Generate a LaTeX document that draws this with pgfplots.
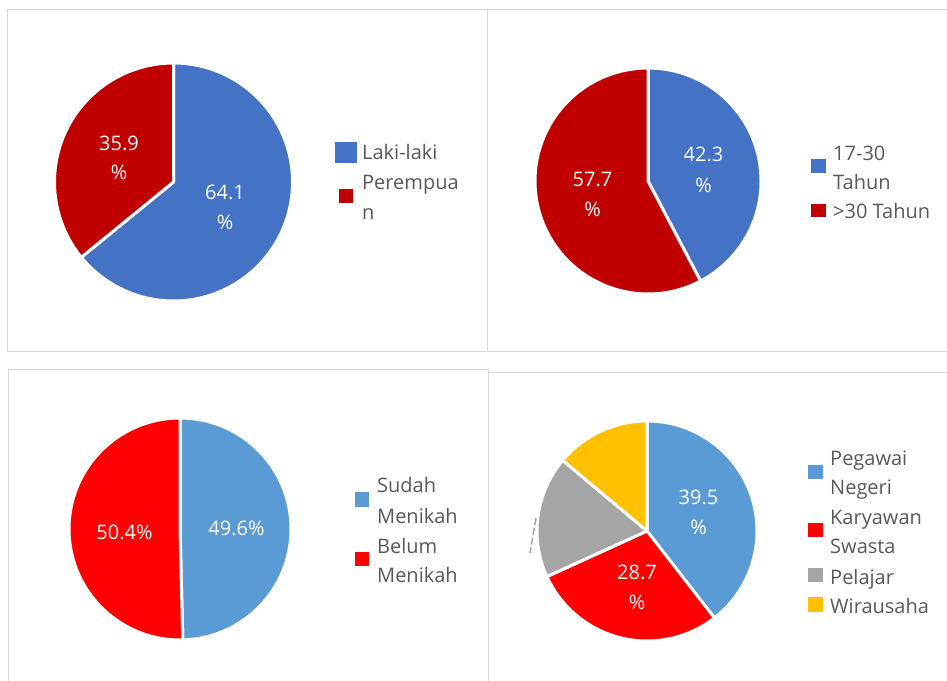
\documentclass[border=0pt]{standalone}
\usepackage{pgfplots}
\pgfplotsset{compat=1.18}
\usepackage{fontspec}
\setmainfont{Open Sans}
\definecolor{bA}{HTML}{4472C4}
\definecolor{rA}{HTML}{C00000}
\definecolor{bB}{HTML}{5B9BD5}
\definecolor{rB}{HTML}{FF0000}
\definecolor{gB}{HTML}{A5A5A5}
\definecolor{yB}{HTML}{FFC000}
\definecolor{txt}{HTML}{595959}
\definecolor{frm}{HTML}{D9D9D9}
% #1 radius (pt), #2 cumulative start (%), #3 value (%), #4 colour
\newcommand{\slice}[4]{%
  \fill[#4, draw=white, line width=3pt, line join=round] (axis cs:0,0) --
    (axis cs:{cos(90-3.6*#2)},{sin(90-3.6*#2)})
    arc[start angle={90-3.6*#2}, end angle={90-3.6*(#2+#3)}, radius=#1pt] -- cycle;}
\pgfplotsset{pie/.style={hide axis, clip=false, anchor=center,
  xmin=-1, xmax=1, ymin=-1, ymax=1}}
\tikzset{lt/.style={txt, anchor=base west, inner sep=0pt},
         dl/.style={white, anchor=base, inner sep=0pt}}
\begin{document}
\begin{tikzpicture}[x=1pt, y=1pt, font=\fontsize{20}{24}\selectfont]
\useasboundingbox (0,0) rectangle (947,680);
% panel frames
\draw[frm, line width=1pt] (7,670) rectangle (487,328);
\draw[frm, line width=1pt] (487,670) -- (952,670);
\draw[frm, line width=1pt] (487,328) -- (952,328);
\draw[frm, line width=1pt] (8,-5) -- (8,310) -- (488,310) -- (488,-5);
\draw[frm, line width=1pt] (488,307) -- (952,307);

% ---- Pie 1: gender
\begin{axis}[pie, x=119pt, y=119pt, at={(173.5pt,498pt)}]
\slice{119}{0}{64.1}{bA}
\slice{119}{64.1}{35.9}{rA}
\end{axis}
\node[dl] at (225,480) {64.1};
\node[dl] at (225,450) {\%};
\node[dl] at (119,529) {35.9};
\node[dl] at (119,500) {\%};
\fill[bA] (335,517) rectangle (357,538);
\fill[rA] (339,477) rectangle (353,491);
\node[lt] at (362,520) {Laki-laki};
\node[lt] at (362,490) {Perempua};
\node[lt] at (362,460) {n};

% ---- Pie 2: age
\begin{axis}[pie, x=113pt, y=113pt, at={(648pt,499pt)}]
\slice{113}{0}{42.3}{bA}
\slice{113}{42.3}{57.7}{rA}
\end{axis}
\node[dl] at (703.5,518) {42.3};
\node[dl] at (703.5,487) {\%};
\node[dl] at (592.5,493) {57.7};
\node[dl] at (592.5,463) {\%};
\fill[bA] (811,507) rectangle (826,521);
\fill[rA] (811,463) rectangle (826,476);
\node[lt] at (833,519) {17-30};
\node[lt] at (833,490) {Tahun};
\node[lt] at (833,461) {>30 Tahun};

% ---- Pie 3: marital status
\begin{axis}[pie, x=111pt, y=111pt, at={(180pt,151pt)}]
\slice{111}{0}{49.6}{bB}
\slice{111}{49.6}{50.4}{rB}
\end{axis}
\node[dl] at (236.5,144) {49.6\%};
\node[dl] at (124.5,140) {50.4\%};
\fill[bB] (355,173) rectangle (369,188);
\fill[rB] (355,114) rectangle (369,128);
\node[lt] at (377,187) {Sudah};
\node[lt] at (377,157) {Menikah};
\node[lt] at (377,127) {Belum};
\node[lt] at (377,98) {Menikah};

% ---- Pie 4: occupation
\begin{axis}[pie, x=110pt, y=110pt, at={(647pt,149pt)}]
\slice{110}{0}{39.5}{bB}
\slice{110}{39.5}{28.7}{rB}
\slice{110}{68.2}{17.9}{gB}
\slice{110}{86.1}{13.9}{yB}
\end{axis}
\node[dl] at (698.5,175) {39.5};
\node[dl] at (698.5,146) {\%};
\node[dl] at (637,101) {28.7};
\node[dl] at (637,71) {\%};
\draw[gB, line width=1.5pt, dash pattern=on 7pt off 3pt] (536,162) -- (530,127);
\fill[bB] (808,201) rectangle (823,215);
\fill[rB] (808,143) rectangle (823,157);
\fill[gB] (808,98) rectangle (823,112);
\fill[yB] (808,68) rectangle (823,83);
\node[lt] at (830,214) {Pegawai};
\node[lt] at (830,185) {Negeri};
\node[lt] at (830,155) {Karyawan};
\node[lt] at (830,126) {Swasta};
\node[lt] at (830,96) {Pelajar};
\node[lt] at (830,67) {Wirausaha};
\end{tikzpicture}
\end{document}
